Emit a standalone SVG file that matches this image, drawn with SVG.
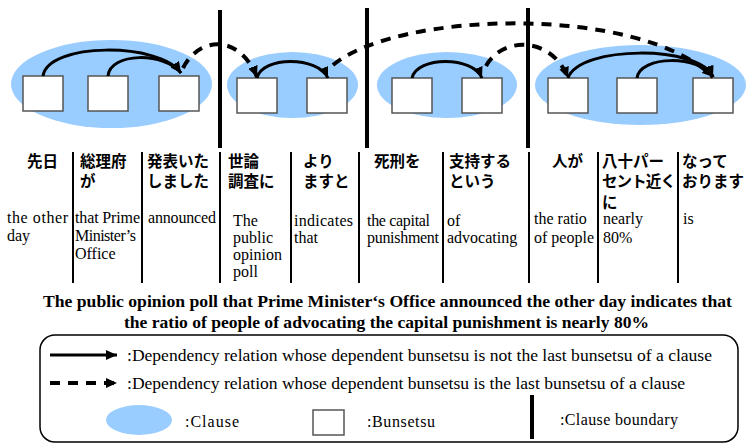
<svg xmlns="http://www.w3.org/2000/svg" width="747" height="445" viewBox="0 0 747 445">
<style>
.clause{fill:#99ccff}
.bs{fill:#fff;stroke:#555;stroke-width:1.5}
.cb{stroke:#000;stroke-width:4}
.sep{stroke:#000;stroke-width:2}
.arc{fill:none;stroke:#000;stroke-width:3}
.dash{fill:none;stroke:#000;stroke-width:4;stroke-dasharray:10 8}
.jp{font-family:"Noto Sans CJK JP","Noto Sans",sans-serif;font-size:15.5px;font-weight:bold;fill:#000}
.en{font-family:"Liberation Serif","Times New Roman",serif;font-size:16px;fill:#000}
.sent{font-family:"Liberation Serif","Times New Roman",serif;font-size:16px;font-weight:bold;fill:#000}
.lg{font-family:"Liberation Serif","Times New Roman",serif;font-size:16px;fill:#000}
</style>
<defs>
<marker id="ah" markerUnits="userSpaceOnUse" markerWidth="12" markerHeight="10" refX="11" refY="5" orient="auto">
<path d="M0,0 L11,5 L0,10 z" fill="#000"/>
</marker>
</defs>
<rect width="747" height="445" fill="#fff"/>

<g id="clauses">
<ellipse id="clause1" class="clause" cx="111.5" cy="84" rx="100.5" ry="44"/>
<ellipse id="clause2" class="clause" cx="292.5" cy="85" rx="65.5" ry="33"/>
<ellipse id="clause3" class="clause" cx="447" cy="85" rx="70" ry="33"/>
<ellipse id="clause4" class="clause" cx="640.5" cy="85" rx="105.5" ry="40"/>
</g>

<g id="boundaries">
<line class="cb" x1="220" y1="10" x2="220" y2="148"/>
<line class="cb" x1="367" y1="8" x2="367" y2="148"/>
<line class="cb" x1="528" y1="8" x2="528" y2="148"/>
</g>

<g id="b1"><rect class="bs" x="23" y="76" width="40" height="35"/></g>
<g id="b2"><rect class="bs" x="88" y="76" width="40" height="35"/></g>
<g id="b3"><rect class="bs" x="159" y="76" width="40" height="35"/></g>
<g id="b4"><rect class="bs" x="237" y="78" width="40" height="35"/></g>
<g id="b5"><rect class="bs" x="307" y="78" width="40" height="35"/></g>
<g id="b6"><rect class="bs" x="392" y="78" width="40" height="35"/></g>
<g id="b7"><rect class="bs" x="462" y="78" width="40" height="35"/></g>
<g id="b8"><rect class="bs" x="548" y="78" width="40" height="35"/></g>
<g id="b9"><rect class="bs" x="617" y="78" width="40" height="35"/></g>
<g id="b10"><rect class="bs" x="693" y="78" width="40" height="35"/></g>

<g id="connectors">
<path class="arc" d="M43,76 C48,42 160,42 181,73" marker-end="url(#ah)"/>
<path class="arc" d="M108,76 C110,52 165,52 181,73" marker-end="url(#ah)"/>
<path class="dash" d="M183,68 C200,35 240,35 257,77" marker-end="url(#ah)"/>
<path class="arc" d="M257,78 C262,56 318,56 328,78" marker-end="url(#ah)"/>
<path class="dash" d="M333,65 C400,10 640,5 713,77" marker-end="url(#ah)"/>
<path class="arc" d="M412,78 C417,56 473,56 482,78" marker-end="url(#ah)"/>
<path class="dash" d="M486,66 C502,36 552,36 568,78" marker-end="url(#ah)"/>
<path class="arc" d="M568,78 C580,45 700,45 713,77" marker-end="url(#ah)"/>
<path class="arc" d="M637,78 C640,55 700,55 713,77" marker-end="url(#ah)"/>
</g>

<g id="separators">
<line class="sep" x1="73" y1="152" x2="73" y2="283"/>
<line class="sep" x1="142" y1="152" x2="142" y2="283"/>
<line class="sep" x1="220" y1="152" x2="220" y2="283"/>
<line class="sep" x1="291" y1="152" x2="291" y2="283"/>
<line class="sep" x1="359" y1="152" x2="359" y2="283"/>
<line class="sep" x1="443" y1="152" x2="443" y2="283"/>
<line class="sep" x1="529" y1="152" x2="529" y2="283"/>
<line class="sep" x1="598" y1="152" x2="598" y2="283"/>
<line class="sep" x1="678" y1="152" x2="678" y2="283"/>
</g>

<g id="col1">
<text class="jp" x="27" y="167">先日</text>
<text class="en" x="7" y="223" textLength="61">the other</text>
<text class="en" x="7" y="241">day</text>
</g>
<g id="col2">
<text class="jp" x="80" y="167">総理府</text>
<text class="jp" x="80" y="187">が</text>
<text class="en" x="75" y="223" textLength="65">that Prime</text>
<text class="en" x="75" y="241" textLength="61">Minister’s</text>
<text class="en" x="75" y="259">Office</text>
</g>
<g id="col3">
<text class="jp" x="147" y="167">発表いた</text>
<text class="jp" x="147" y="187">しました</text>
<text class="en" x="148" y="223" textLength="68">announced</text>
</g>
<g id="col4">
<text class="jp" x="228" y="167">世論</text>
<text class="jp" x="228" y="187">調査に</text>
<text class="en" x="233" y="226">The</text>
<text class="en" x="233" y="243">public</text>
<text class="en" x="233" y="260">opinion</text>
<text class="en" x="233" y="277">poll</text>
</g>
<g id="col5">
<text class="jp" x="303" y="167">より</text>
<text class="jp" x="303" y="187">ますと</text>
<text class="en" x="294" y="226" textLength="59">indicates</text>
<text class="en" x="294" y="243">that</text>
</g>
<g id="col6">
<text class="jp" x="374" y="167">死刑を</text>
<text class="en" x="367" y="226" textLength="63">the capital</text>
<text class="en" x="367" y="243" textLength="72">punishment</text>
</g>
<g id="col7">
<text class="jp" x="449" y="167">支持する</text>
<text class="jp" x="449" y="187">という</text>
<text class="en" x="447" y="226">of</text>
<text class="en" x="447" y="243">advocating</text>
</g>
<g id="col8">
<text class="jp" x="552" y="167">人が</text>
<text class="en" x="534" y="224">the ratio</text>
<text class="en" x="534" y="243">of people</text>
</g>
<g id="col9">
<text class="jp" x="602" y="167">八十パー</text>
<text class="jp" x="602" y="187" textLength="74">セント近く</text>
<text class="jp" x="602" y="208">に</text>
<text class="en" x="603" y="224">nearly</text>
<text class="en" x="603" y="243">80%</text>
</g>
<g id="col10">
<text class="jp" x="682" y="167">なって</text>
<text class="jp" x="682" y="187">おります</text>
<text class="en" x="683" y="224">is</text>
</g>

<g id="sentence">
<text class="sent" x="43" y="307" textLength="689" lengthAdjust="spacingAndGlyphs">The public opinion poll that Prime Minister‘s Office announced the other day indicates that</text>
<text class="sent" x="124" y="328" textLength="525" lengthAdjust="spacingAndGlyphs">the ratio of people of advocating the capital punishment is nearly 80%</text>
</g>

<g id="legend">
<rect x="40" y="335" width="698" height="107" rx="15" ry="15" fill="none" stroke="#000" stroke-width="1.5"/>
<line class="arc" x1="50" y1="355" x2="117" y2="355" marker-end="url(#ah)"/>
<text class="lg" x="127" y="361" textLength="585" lengthAdjust="spacingAndGlyphs">:Dependency relation whose dependent bunsetsu is not the last bunsetsu of a clause</text>
<line class="dash" x1="50" y1="383" x2="117" y2="383" stroke-dasharray="11 7" marker-end="url(#ah)"/>
<text class="lg" x="127" y="389" textLength="558" lengthAdjust="spacingAndGlyphs">:Dependency relation whose dependent bunsetsu is the last bunsetsu of a clause</text>
<ellipse class="clause" cx="139" cy="420" rx="33" ry="15"/>
<text class="lg" x="185" y="427" textLength="54">:Clause</text>
<rect class="bs" x="313" y="410" width="31" height="25"/>
<text class="lg" x="367" y="427" textLength="68">:Bunsetsu</text>
<line class="cb" x1="532" y1="395" x2="532" y2="439"/>
<text class="lg" x="560" y="425" textLength="118">:Clause boundary</text>
</g>
</svg>
